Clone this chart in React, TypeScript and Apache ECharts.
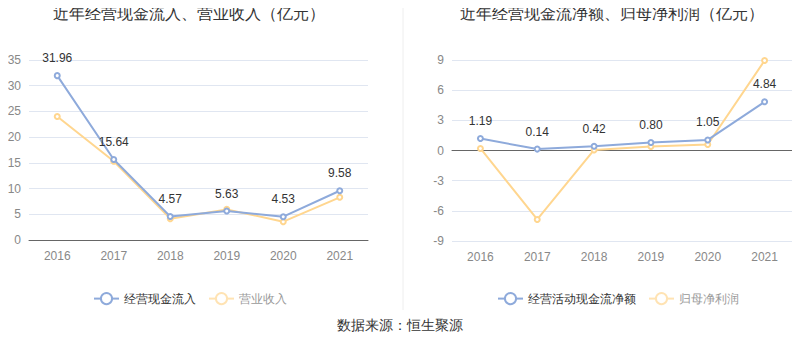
import React, { useEffect, useRef } from "react";
import * as echarts from "echarts";

const years = ["2016", "2017", "2018", "2019", "2020", "2021"];
const cashInflow = [31.96, 15.64, 4.57, 5.63, 4.53, 9.58];
const revenue = [24.0, 15.3, 4.15, 5.95, 3.56, 8.3];
const netCashFlow = [1.19, 0.14, 0.42, 0.8, 1.05, 4.84];
const netProfit = [0.2, -6.86, 0.06, 0.4, 0.6, 8.95];

const BLUE = "#8eaadb";
const YELLOW = "#ffd68f";
const YELLOW_FADED = "#ffe3b3";

export default function App() {
  const ref = useRef<HTMLDivElement>(null);
  useEffect(() => {
    if (!ref.current) return;
    const chart = echarts.init(ref.current, null, { renderer: "svg" });
    const axisLabel = { color: "#888", fontSize: 12 };
    const xAxisCommon = {
      type: "category",
      data: years,
      axisTick: { alignWithLabel: true, lineStyle: { color: "#666" } },
      axisLine: { lineStyle: { color: "#666" } },
      axisLabel: { ...axisLabel, margin: 10 },
    };
    const lineCommon = {
      type: "line",
      symbol: "emptyCircle",
      symbolSize: 5,
      lineStyle: { width: 2 },
    };
    const fadedItem = (name: string) => ({
      name,
      textStyle: { color: "#999" },
      itemStyle: { color: YELLOW_FADED },
      lineStyle: { color: YELLOW_FADED, width: 2 },
    });
    chart.setOption({
      animation: false,
      title: [
        {
          text: "近年经营现金流入、营业收入（亿元）",
          left: 184,
          textAlign: "center",
          top: 0,
          textStyle: { fontSize: 16, fontWeight: "normal", color: "#333" },
        },
        {
          text: "近年经营现金流净额、归母净利润（亿元）",
          left: 607,
          textAlign: "center",
          top: 0,
          textStyle: { fontSize: 16, fontWeight: "normal", color: "#333" },
        },
      ],
      legend: [
        {
          left: 88,
          top: 287,
          itemGap: 12,
          textStyle: { fontSize: 12, color: "#333" },
          data: [{ name: "经营现金流入" }, fadedItem("营业收入")],
        },
        {
          left: 492,
          top: 287,
          itemGap: 12,
          textStyle: { fontSize: 12, color: "#333" },
          data: [{ name: "经营活动现金流净额" }, fadedItem("归母净利润")],
        },
      ],
      grid: [
        { left: 29, right: 432, top: 60, bottom: 118 },
        { left: 452, right: 7, top: 60, bottom: 117 },
      ],
      xAxis: [
        { ...xAxisCommon, gridIndex: 0 },
        { ...xAxisCommon, gridIndex: 1 },
      ],
      yAxis: [
        {
          type: "value",
          gridIndex: 0,
          min: 0,
          max: 35,
          interval: 5,
          axisLabel,
          axisLine: { show: false },
          axisTick: { show: false },
          splitLine: { lineStyle: { color: "#e0e6f1" } },
        },
        {
          type: "value",
          gridIndex: 1,
          min: -9,
          max: 9,
          interval: 3,
          axisLabel,
          axisLine: { show: false },
          axisTick: { show: false },
          splitLine: { lineStyle: { color: "#e0e6f1" } },
        },
      ],
      series: [
        {
          ...lineCommon,
          name: "经营现金流入",
          xAxisIndex: 0,
          yAxisIndex: 0,
          data: cashInflow,
          itemStyle: { color: BLUE },
          lineStyle: { width: 2, color: BLUE },
          z: 3,
          label: {
            show: true,
            position: "top",
            distance: 8,
            color: "#333",
            fontSize: 12,
            formatter: (p: any) => p.value.toFixed(2),
          },
        },
        {
          ...lineCommon,
          name: "营业收入",
          xAxisIndex: 0,
          yAxisIndex: 0,
          data: revenue,
          itemStyle: { color: YELLOW },
          lineStyle: { width: 2, color: YELLOW },
          z: 2,
        },
        {
          ...lineCommon,
          name: "经营活动现金流净额",
          xAxisIndex: 1,
          yAxisIndex: 1,
          data: netCashFlow,
          itemStyle: { color: BLUE },
          lineStyle: { width: 2, color: BLUE },
          z: 3,
          label: {
            show: true,
            position: "top",
            distance: 8,
            color: "#333",
            fontSize: 12,
            formatter: (p: any) => p.value.toFixed(2),
          },
        },
        {
          ...lineCommon,
          name: "归母净利润",
          xAxisIndex: 1,
          yAxisIndex: 1,
          data: netProfit,
          itemStyle: { color: YELLOW },
          lineStyle: { width: 2, color: YELLOW },
          z: 2,
        },
      ],
      graphic: [
        {
          type: "line",
          shape: { x1: 403, y1: 0, x2: 403, y2: 310 },
          style: { stroke: "#eeeeee", lineWidth: 1 },
        },
        {
          type: "text",
          x: 400,
          y: 325,
          style: {
            text: "数据来源：恒生聚源",
            fontSize: 14,
            fill: "#333",
            align: "center",
            verticalAlign: "middle",
          },
        },
      ],
    });
    return () => chart.dispose();
  }, []);
  return <div ref={ref} style={{ width: 800, height: 358, margin: -8 }} />;
}
